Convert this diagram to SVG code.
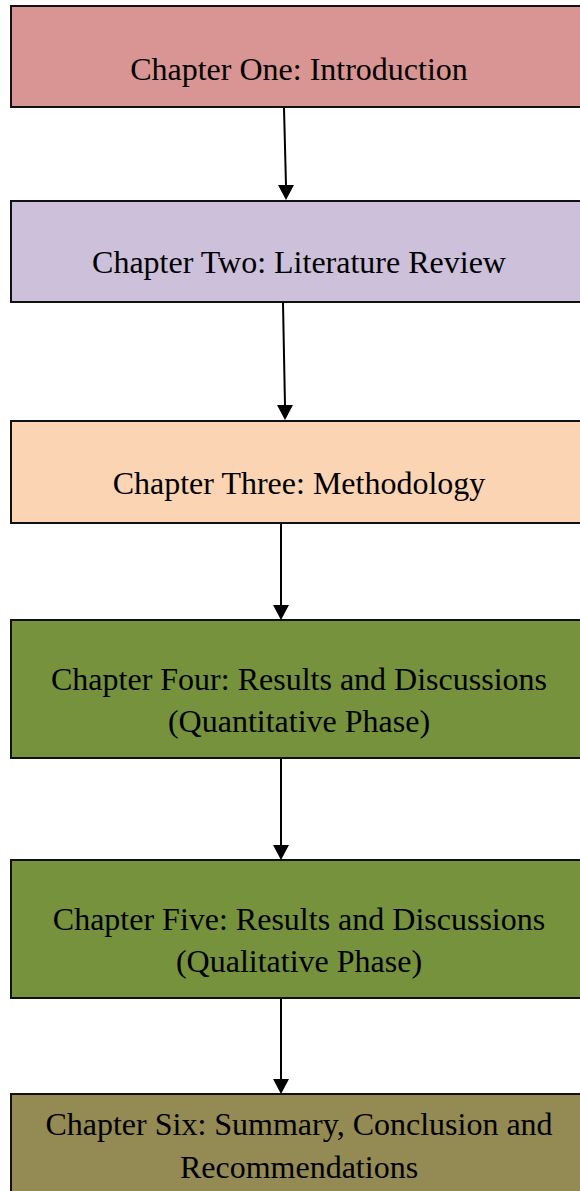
<svg xmlns="http://www.w3.org/2000/svg" width="580" height="1191" viewBox="0 0 580 1191">
<style>
.box{stroke:#111;stroke-width:2}
.t{font-family:"Liberation Serif","Times New Roman",serif;font-size:32px;fill:#000;text-anchor:middle}
.c{stroke:#000;stroke-width:2;fill:none}
</style>
<defs>
<marker id="ah" markerWidth="16" markerHeight="15" refX="8" refY="15" orient="auto-start-reverse" markerUnits="userSpaceOnUse" viewBox="0 0 16 15">
<path d="M0,0 L16,0 L8,15 Z" fill="#000" transform="rotate(0)"/>
</marker>
</defs>
<rect width="580" height="1191" fill="#fff"/>
<g id="n1"><rect class="box" x="11" y="6" width="580" height="101" fill="#D99594"/><text class="t" x="299" y="80">Chapter One: Introduction</text></g>
<g id="n2"><rect class="box" x="11" y="201" width="580" height="101" fill="#CCC0DA"/><text class="t" x="299" y="273">Chapter Two: Literature Review</text></g>
<g id="n3"><rect class="box" x="11" y="421" width="580" height="102" fill="#FBD4B4"/><text class="t" x="299" y="494">Chapter Three: Methodology</text></g>
<g id="n4"><rect class="box" x="11" y="620" width="580" height="138" fill="#76923C"/><text class="t" x="299" y="690">Chapter Four: Results and Discussions</text><text class="t" x="299" y="732">(Quantitative Phase)</text></g>
<g id="n5"><rect class="box" x="11" y="860" width="580" height="138" fill="#76923C"/><text class="t" x="299" y="930">Chapter Five: Results and Discussions</text><text class="t" x="299" y="972">(Qualitative Phase)</text></g>
<g id="n6"><rect class="box" x="11" y="1094" width="580" height="110" fill="#948A54"/><text class="t" x="299" y="1135">Chapter Six: Summary, Conclusion and</text><text class="t" x="299" y="1178">Recommendations</text></g>
<g id="connectors">
<line class="c" x1="284" y1="108" x2="286" y2="186"/><path d="M278,185 L294,185 L286,200 Z"/>
<line class="c" x1="283" y1="303" x2="285" y2="406"/><path d="M277,405 L293,405 L285,420 Z"/>
<line class="c" x1="281" y1="524" x2="281" y2="606"/><path d="M273,605 L289,605 L281,620 Z"/>
<line class="c" x1="281" y1="759" x2="281" y2="846"/><path d="M273,845 L289,845 L281,860 Z"/>
<line class="c" x1="281" y1="999" x2="281" y2="1080"/><path d="M273,1079 L289,1079 L281,1094 Z"/>
</g>
</svg>
